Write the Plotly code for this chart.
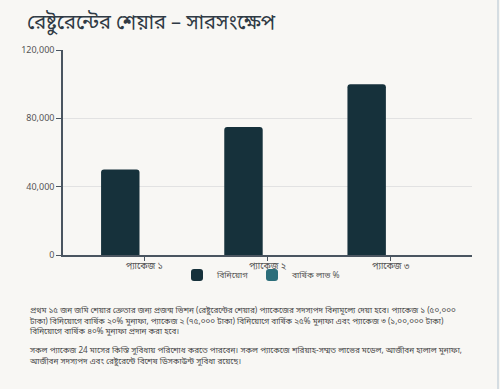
import plotly.graph_objects as go

categories = ["প্যাকেজ ১", "প্যাকেজ ২", "প্যাকেজ ৩"]
investment = [50000, 75000, 100000]
profit_pct = [20, 25, 40]
y_ticks = [0, 40000, 80000, 120000]
y_tick_labels = ["0", "40,000", "80,000", "120,000"]

title_text = "রেষ্টুরেন্টের শেয়ার – সারসংক্ষেপ"
para1 = ("প্রথম ১৫ জন জমি শেয়ার ক্রেতার জন্য প্রজন্ম ভিশন (রেষ্টুরেন্টের শেয়ার) প্যাকেজের সদস্যপদ বিনামূল্যে দেয়া হবে। প্যাকেজ ১ (৫০,০০০<br>"
         "টাকা) বিনিয়োগে বার্ষিক ২০% মুনাফা, প্যাকেজ ২ (৭৫,০০০ টাকা) বিনিয়োগে বার্ষিক ২৫% মুনাফা এবং প্যাকেজ ৩ (১,০০,০০০ টাকা)<br>"
         "বিনিয়োগে বার্ষিক ৪০% মুনাফা প্রদান করা হবে।")
para2 = ("সকল প্যাকেজ 24 মাসের কিস্তি সুবিধায় পরিশোধ করতে পারবেন। সকল প্যাকেজে শরিয়াহ-সম্মত লাভের মডেল, আজীবন হালাল মুনাফা,<br>"
         "আজীবন সদস্যপদ এবং রেষ্টুরেন্টে বিশেষ ডিসকাউন্ট সুবিধা রয়েছে।")

fig = go.Figure()
fig.add_trace(go.Bar(x=categories, y=investment, name="বিনিয়োগ", offsetgroup="a",
                     marker=dict(color="#16313b", line=dict(width=0))))
# profit % bars share the same scale, so they are practically invisible
fig.add_trace(go.Bar(x=categories, y=profit_pct, name="বার্ষিক লাভ %", offsetgroup="b",
                     marker=dict(color="#2c6e7a", line=dict(width=0)), opacity=0,
                     showlegend=False, legendgroup="p"))
fig.add_trace(go.Bar(x=categories, y=[None] * len(categories), name="বার্ষিক লাভ %",
                     offsetgroup="b", legendgroup="p",
                     marker=dict(color="#2c6e7a", line=dict(width=0))))
# empty spacer legend entry so the last legend label is not clipped
fig.add_trace(go.Bar(x=categories, y=[None] * len(categories), name=" ",
                     offsetgroup="b", legendgroup="s", hoverinfo="skip",
                     marker=dict(color="rgba(0,0,0,0)", line=dict(width=0))))

fig.update_layout(
    width=500, height=389,
    paper_bgcolor="#f8f7f4", plot_bgcolor="#f8f7f4",
    margin=dict(l=63, r=28, t=50, b=134, autoexpand=False),
    barmode="group", bargap=0.22, bargroupgap=0.2, barcornerradius=3,
    font=dict(family="Noto Sans, Noto Sans Bengali, sans-serif", color="#555"),
    title=dict(text=title_text, x=27/500, xanchor="left", xref="container",
               y=1 - 22/389, yanchor="middle", yref="container",
               font=dict(size=20, color="#2f3a44")),
    showlegend=True,
    legend=dict(orientation="h", x=177/500, xanchor="left", xref="container",
                y=1 - 275/389, yanchor="middle", yref="container",
                font=dict(size=8.5, color="#555"), itemwidth=30, traceorder="normal",
                entrywidth=30, tracegroupgap=0, bgcolor="rgba(0,0,0,0)",
                itemclick=False, itemdoubleclick=False),
    xaxis=dict(range=[-0.66, 2.66], showline=True, linecolor="#4a5560", linewidth=1.5,
               ticks="outside", ticklen=4, tickcolor="#4a5560", ticklabelstandoff=-3,
               tickfont=dict(size=9, color="#555"), showgrid=False, fixedrange=True),
    yaxis=dict(range=[0, 120000], tickvals=y_ticks, ticktext=y_tick_labels,
               showline=True, linecolor="#4a5560", linewidth=1.5,
               ticks="outside", ticklen=5, tickcolor="#4a5560",
               tickfont=dict(size=9, color="#555"),
               showgrid=True, gridcolor="#e2e2e2", gridwidth=1, zeroline=False),
)

fig.add_annotation(text=para1, xref="paper", yref="paper",
                   x=-36/409, y=-(302-255)/205, xanchor="left", yanchor="top",
                   align="left", showarrow=False,
                   font=dict(size=8.15, color="#4a4a4a"))
fig.add_annotation(text=para2, xref="paper", yref="paper",
                   x=-36/409, y=-(342-255)/205, xanchor="left", yanchor="top",
                   align="left", showarrow=False,
                   font=dict(size=8.15, color="#4a4a4a"))

fig.add_shape(type="line", xref="paper", yref="paper",
              x0=(498-63)/409, x1=(498-63)/409, y0=-134/205, y1=1+50/205,
              line=dict(color="#d5dde2", width=2))

fig.write_html("out.html", config={"displayModeBar": False},
               post_script="document.body.style.margin='0';document.body.style.background='#f8f7f4';")
